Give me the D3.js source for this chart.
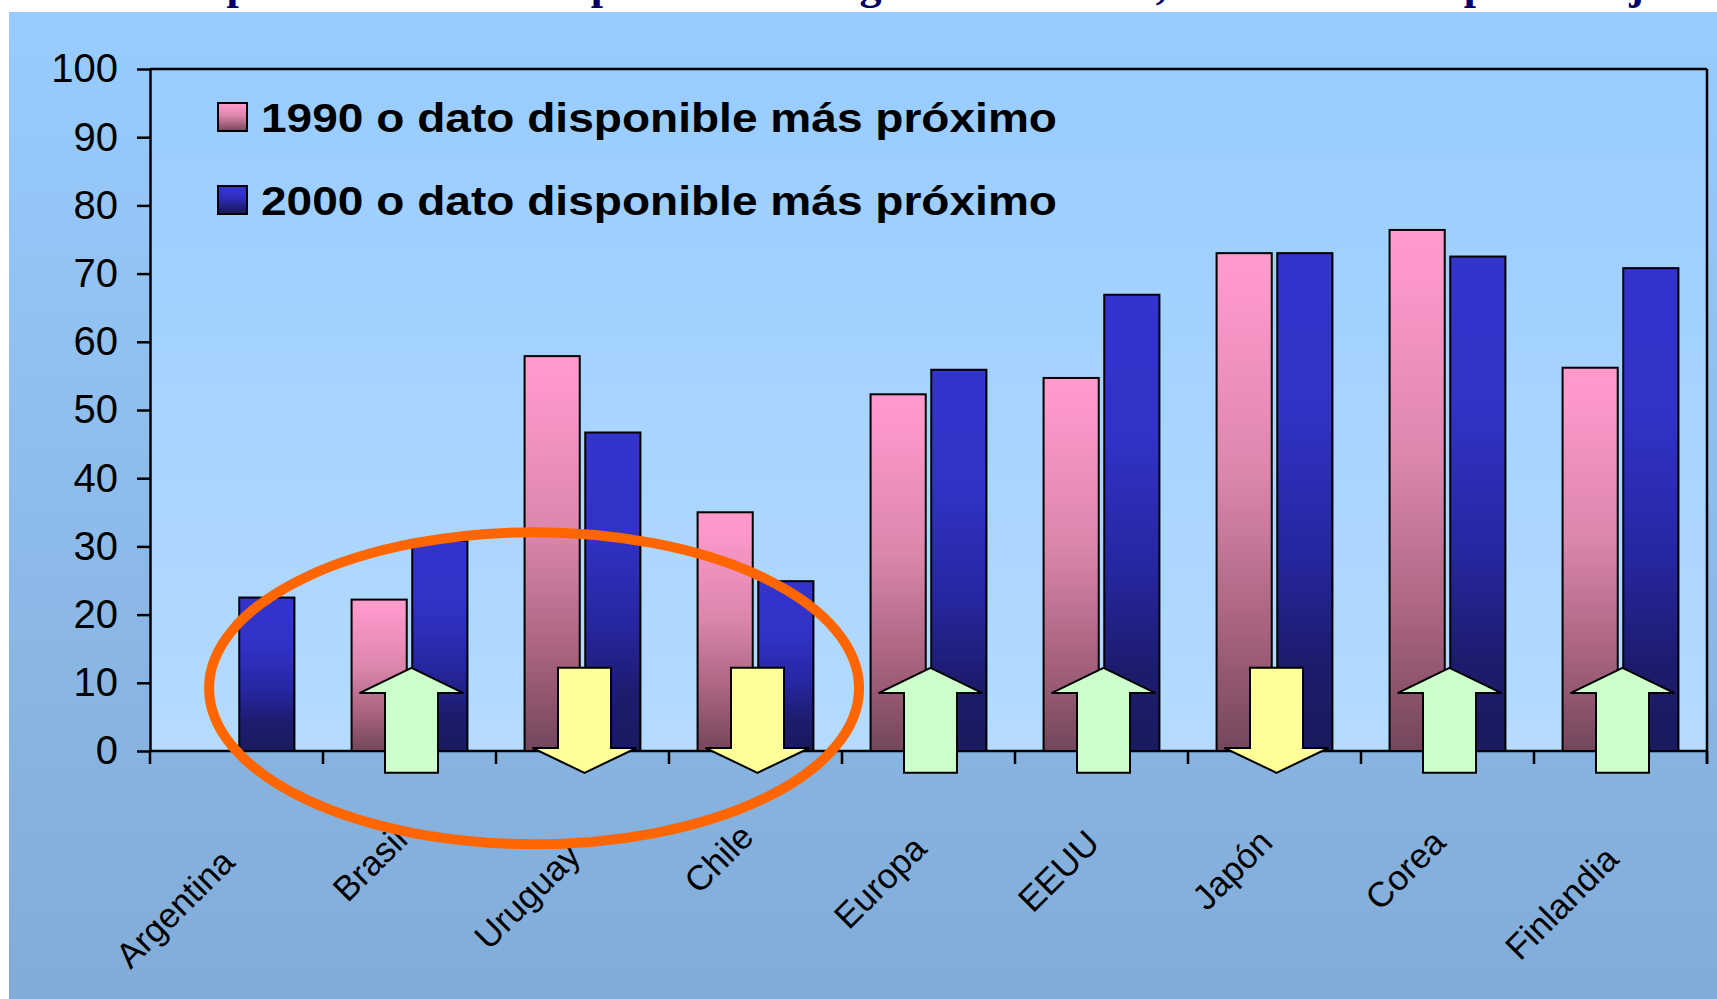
<!DOCTYPE html>
<html>
<head>
<meta charset="utf-8">
<script src="https://cdn.jsdelivr.net/npm/d3@7"></script>
<style>
  body { margin: 0; background: #fff; }
  svg { display: block; }
</style>
</head>
<body>
<div id="chart"></div>
<script>
// data
const categories = ["Argentina", "Brasil", "Uruguay", "Chile", "Europa", "EEUU", "Japón", "Corea", "Finlandia"];
const values1990 = [null, 22.2, 57.9, 35.0, 52.3, 54.7, 73.0, 76.4, 56.2];
const values2000 = [22.5, 30.8, 46.7, 24.9, 55.9, 66.9, 73.0, 72.5, 70.8];
const seriesKeys = ["1990", "2000"];
const seriesNames = ["1990 o dato disponible más próximo", "2000 o dato disponible más próximo"];
const arrowDirs = [null, "up", "down", "down", "up", "up", "down", "up", "up"];
const yTicks = [0, 10, 20, 30, 40, 50, 60, 70, 80, 90, 100];
const titleText = "Comparación de la tasa ponderada de graduación real, 1990 a 2000 en porcentaje";

const width = 1717, height = 999;
const plot = { left: 150, right: 1707, top: 69, bottom: 751 };

const svg = d3.select("#chart").append("svg")
    .attr("width", width)
    .attr("height", height);

const defs = svg.append("defs");

function vGrad(id, stops) {
  const g = defs.append("linearGradient")
      .attr("id", id)
      .attr("x1", 0).attr("y1", 0).attr("x2", 0).attr("y2", 1);
  stops.forEach(s => g.append("stop").attr("offset", s[0]).attr("stop-color", s[1]));
}
vGrad("panelGrad", [[0, "#99ccff"], [0.7, "#89b5e2"], [1, "#82acd8"]]);
vGrad("plotGrad", [[0, "#99ccff"], [1, "#b5dbff"]]);
vGrad("pinkGrad", [[0, "#ff9acc"], [0.08, "#fc98ca"], [0.45, "#db86ad"], [0.75, "#a8637f"], [1, "#73465c"]]);
vGrad("blueGrad", [[0, "#3434cd"], [0.3, "#3232c8"], [0.6, "#2626a0"], [0.82, "#1c1c6e"], [1, "#1a1a5e"]]);
const fills = { "1990": "url(#pinkGrad)", "2000": "url(#blueGrad)" };

// title (mostly above the page edge, as in the source)
svg.append("text")
    .attr("x", 136)
    .attr("y", -1.5)
    .attr("font-family", "'Liberation Serif', 'Times New Roman', serif")
    .attr("font-weight", "bold")
    .attr("font-size", 44)
    .attr("fill", "#000066")
    .text(titleText);

// background panel
svg.append("rect")
    .attr("x", 9).attr("y", 12)
    .attr("width", width - 9).attr("height", height - 12)
    .attr("fill", "url(#panelGrad)");

svg.append("rect")
    .attr("x", plot.left).attr("y", plot.top)
    .attr("width", plot.right - plot.left).attr("height", plot.bottom - plot.top)
    .attr("fill", "url(#plotGrad)");

const x0 = d3.scaleBand()
    .domain(categories)
    .range([plot.left, plot.right])
    .padding(0);

const x1 = d3.scaleBand()
    .domain(seriesKeys)
    .range([0, x0.bandwidth()])
    .paddingInner(0.091)
    .paddingOuter(0.471);

const y = d3.scaleLinear()
    .domain([0, 100])
    .range([plot.bottom, plot.top]);

// y axis
const yAxis = svg.append("g")
    .attr("transform", "translate(" + plot.left + ",0)")
    .call(d3.axisLeft(y).tickValues(yTicks).tickSize(13).tickSizeOuter(0).tickPadding(19));
yAxis.select(".domain").attr("stroke", "#000").attr("stroke-width", 2.5);
yAxis.selectAll(".tick line").attr("stroke", "#000").attr("stroke-width", 2.5);
yAxis.selectAll(".tick text")
    .attr("font-family", "'Liberation Sans', Arial, sans-serif")
    .attr("font-size", 40)
    .attr("fill", "#000");

// x axis line, boundary ticks, top and right border
const frame = svg.append("g").attr("stroke", "#000").attr("stroke-width", 2.5).attr("fill", "none");
frame.append("line").attr("x1", plot.left).attr("x2", plot.right).attr("y1", y(0)).attr("y2", y(0));
frame.append("line").attr("x1", plot.left).attr("x2", plot.right).attr("y1", y(100)).attr("y2", y(100));
frame.append("line").attr("x1", plot.right).attr("x2", plot.right).attr("y1", y(100)).attr("y2", y(0) + 13);
const bounds = categories.map(c => x0(c)).concat([plot.right]);
frame.selectAll(".xtick")
    .data(bounds)
    .enter().append("line")
    .attr("class", "xtick")
    .attr("x1", d => d).attr("x2", d => d)
    .attr("y1", y(0)).attr("y2", y(0) + 13);

// bars
const rows = categories.map((c, i) => ({ cat: c, "1990": values1990[i], "2000": values2000[i] }));
const groups = svg.selectAll(".cat")
    .data(rows)
    .enter().append("g")
    .attr("class", "cat")
    .attr("transform", d => "translate(" + x0(d.cat) + ",0)");

groups.selectAll("rect")
    .data(d => seriesKeys.filter(k => d[k] != null).map(k => ({ key: k, value: d[k] })))
    .enter().append("rect")
    .attr("x", d => x1(d.key))
    .attr("y", d => y(d.value))
    .attr("width", x1.bandwidth())
    .attr("height", d => y(0) - y(d.value))
    .attr("fill", d => fills[d.key])
    .attr("stroke", "#000")
    .attr("stroke-width", 2);

// change arrows
const line = d3.line();
const shaft = 26.5, head = 52;
function arrowPts(dir, cx) {
  if (dir === "up") {
    return [[cx, y(12.2)], [cx + head, y(8.5)], [cx + shaft, y(8.5)], [cx + shaft, y(-3.2)],
            [cx - shaft, y(-3.2)], [cx - shaft, y(8.5)], [cx - head, y(8.5)]];
  }
  return [[cx - shaft, y(12.2)], [cx + shaft, y(12.2)], [cx + shaft, y(0.44)], [cx + head, y(0.44)],
          [cx, y(-3.2)], [cx - head, y(0.44)], [cx - shaft, y(0.44)]];
}
svg.selectAll(".arrow")
    .data(categories.map((c, i) => ({ cat: c, dir: arrowDirs[i] })).filter(d => d.dir))
    .enter().append("path")
    .attr("class", "arrow")
    .attr("d", d => line(arrowPts(d.dir, x0(d.cat) + x0.bandwidth() / 2 + 2)) + "Z")
    .attr("fill", d => d.dir === "up" ? "#ccffcc" : "#ffff99")
    .attr("stroke", "#000")
    .attr("stroke-width", 2)
    .attr("stroke-linejoin", "miter");

// legend
const legend = svg.append("g");
seriesKeys.forEach((k, i) => {
  const ly = 103 + i * 83;
  legend.append("rect")
      .attr("x", 218).attr("y", ly)
      .attr("width", 29).attr("height", 28)
      .attr("fill", fills[k])
      .attr("stroke", "#000")
      .attr("stroke-width", 2);
  legend.append("text")
      .attr("x", 261).attr("y", ly + 29)
      .attr("font-family", "'Liberation Sans', Arial, sans-serif")
      .attr("font-weight", "bold")
      .attr("font-size", 40)
      .attr("textLength", 796)
      .attr("lengthAdjust", "spacingAndGlyphs")
      .attr("fill", "#000")
      .text(seriesNames[i]);
});

// category labels (longer names sit a little lower, as Excel placed them)
svg.selectAll(".xlabel")
    .data(categories)
    .enter().append("text")
    .attr("class", "xlabel")
    .attr("text-anchor", "end")
    .attr("font-family", "'Liberation Sans', Arial, sans-serif")
    .attr("font-size", 35)
    .attr("fill", "#000")
    .text(d => d)
    .each(function (d) {
      const len = this.getComputedTextLength();
      const ly = 839 + 0.36 * (len - 80);
      d3.select(this).attr("transform",
          "translate(" + (x0(d) + x0.bandwidth() / 2) + "," + ly + ") rotate(-45)");
    });

// orange highlight around the Latin American group
svg.append("ellipse")
    .attr("cx", x0("Uruguay") + x0.bandwidth() * 0.22)
    .attr("cy", y(9.2))
    .attr("rx", 325)
    .attr("ry", 156)
    .attr("fill", "none")
    .attr("stroke", "#ff6600")
    .attr("stroke-width", 10);
</script>
</body>
</html>
